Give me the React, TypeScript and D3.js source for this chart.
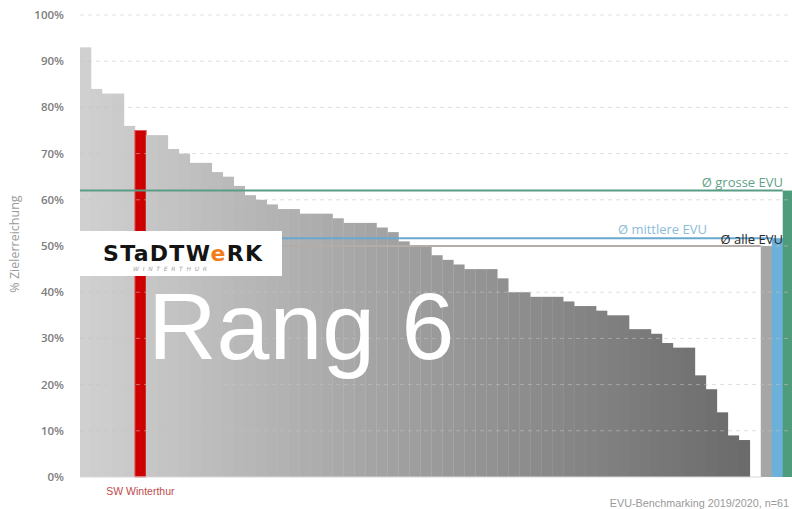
import React from 'react';
import { scaleLinear, scaleBand, interpolateRgb, range } from 'd3';

// Zielerreichung je EVU, sortiert (n=61)
const values = [
  93, 84, 83, 83, 76, 75, 74, 74, 71, 70, 68, 68, 66, 65, 63, 61, 60, 59, 58, 58,
  57, 57, 57, 56, 55, 55, 55, 54, 53, 51, 50, 50, 48, 47, 46, 45, 45, 45, 43, 40,
  40, 39, 39, 39, 38, 37, 37, 36, 35, 35, 32, 32, 31, 29, 28, 28, 22, 19, 14, 9, 8,
];
const highlightIndex = 5;
const highlightLabel = 'SW Winterthur';

const avgNames = ['Ø alle EVU', 'Ø mittlere EVU', 'Ø grosse EVU'];
const avgValues = [50, 51.7, 62];
const avgColors = ['#a6a6a6', '#6cb1d9', '#4f9c7c'];
const avgLineColors = ['#b4aca6', '#6aa9cf', '#5a9c85'];
const avgTextColors = ['#2a2a2a', '#8dbcd8', '#5f9f88'];

const yTicks = [0, 10, 20, 30, 40, 50, 60, 70, 80, 90, 100];

const W = 792;
const H = 509;

export default function App() {
  const y = scaleLinear().domain([0, 100]).range([477, 15]);
  // 61 bars, one empty slot, then 3 average bars
  const slots = range(values.length + 1 + avgValues.length);
  const x = scaleBand<number>().domain(slots).range([80, 80 + slots.length * 10.98]).padding(0);
  const shade = interpolateRgb('#d0d0d0', '#6b6b6b');
  const avgSlot = (i: number) => values.length + 1 + i;

  const barColor = (i: number) => shade(i / (values.length - 1));

  return (
    <div style={{ position: 'fixed', left: 0, top: 0 }}>
      <svg width={W} height={H} style={{ display: 'block', background: '#fff' }}>
        {/* y tick labels */}
        {yTicks.map(t => (
          <text
            key={t}
            x={64}
            y={y(t) + 4}
            textAnchor="end"
            fontFamily="Open Sans, sans-serif"
            fontWeight={600}
            fontSize={11.5}
            fill="#7d7d7d"
          >
            {t}%
          </text>
        ))}
        <text
          transform={`translate(19,${244}) rotate(-90)`}
          textAnchor="middle"
          fontFamily="Open Sans, sans-serif"
          fontSize={12.5}
          fill="#9a9a9a"
        >
          % Zielerreichung
        </text>

        {/* bars */}
        {values.map((v, i) => (
          <rect
            key={i}
            x={x(i)}
            y={y(v)}
            width={x.bandwidth() + 0.3}
            height={y(0) - y(v)}
            fill={i === highlightIndex ? '#cc0000' : barColor(i)}
            stroke={i === highlightIndex ? '#e45a5a' : 'none'}
            strokeWidth={1}
          />
        ))}
        {avgValues.map((v, i) => (
          <rect
            key={'a' + i}
            x={x(avgSlot(i))}
            y={y(v)}
            width={x.bandwidth() + 0.3}
            height={y(0) - y(v)}
            fill={avgColors[i]}
          />
        ))}

        {/* dashed grid */}
        {yTicks.slice(1).map(t => (
          <line
            key={'g' + t}
            x1={80}
            x2={W}
            y1={y(t)}
            y2={y(t)}
            stroke="#c4c4c4"
            strokeOpacity={0.55}
            strokeDasharray="4 4"
          />
        ))}
        <line x1={80} x2={762} y1={y(0)} y2={y(0)} stroke="#d8d8d8" />

        {/* average lines */}
        {avgValues.map((v, i) => (
          <line
            key={'l' + i}
            x1={80}
            x2={x(avgSlot(i))}
            y1={y(v)}
            y2={y(v)}
            stroke={avgLineColors[i]}
            strokeWidth={2}
          />
        ))}
        <text x={783} y={y(avgValues[2]) - 4} textAnchor="end" fontFamily="Open Sans, sans-serif" fontSize={13} fill={avgTextColors[2]}>
          {avgNames[2]}
        </text>
        <text x={707} y={y(avgValues[1]) - 4} textAnchor="end" fontFamily="Open Sans, sans-serif" fontSize={13} fill={avgTextColors[1]}>
          {avgNames[1]}
        </text>
        <text x={783} y={y(avgValues[0]) - 2} textAnchor="end" fontFamily="Open Sans, sans-serif" fontSize={13} fill={avgTextColors[0]}>
          {avgNames[0]}
        </text>

        {/* logo */}
        <rect x={80} y={231} width={202} height={45} fill="#fff" />
        <text x={103} y={261} textLength={159} lengthAdjust="spacing" fontFamily="DejaVu Sans, sans-serif" fontWeight={700} fontSize={22} fill="#141414">
          STaDTW<tspan fill="#f07d1a">e</tspan>RK
        </text>
        <text x={133} y={271} textLength={74} lengthAdjust="spacing" fontFamily="DejaVu Sans, sans-serif" fontStyle="italic" fontSize={6} fill="#a0a0a0">
          WINTERTHUR
        </text>

        {/* rank overlay */}
        <text x={148} y={359} fontFamily="Liberation Sans, Arial, sans-serif" fontSize={95} fill="#fff">
          Rang 6
        </text>

        {/* bottom labels */}
        <text
          x={(x(highlightIndex) ?? 0) + x.bandwidth() / 2}
          y={495}
          textAnchor="middle"
          fontFamily="Liberation Sans, Arial, sans-serif"
          fontSize={10.5}
          fill="#bf4a4c"
        >
          {highlightLabel}
        </text>
        <text x={789} y={507} textAnchor="end" fontFamily="Liberation Sans, Arial, sans-serif" fontSize={10.8} fill="#9a9a9a">
          EVU-Benchmarking 2019/2020, n=61
        </text>
      </svg>
    </div>
  );
}
